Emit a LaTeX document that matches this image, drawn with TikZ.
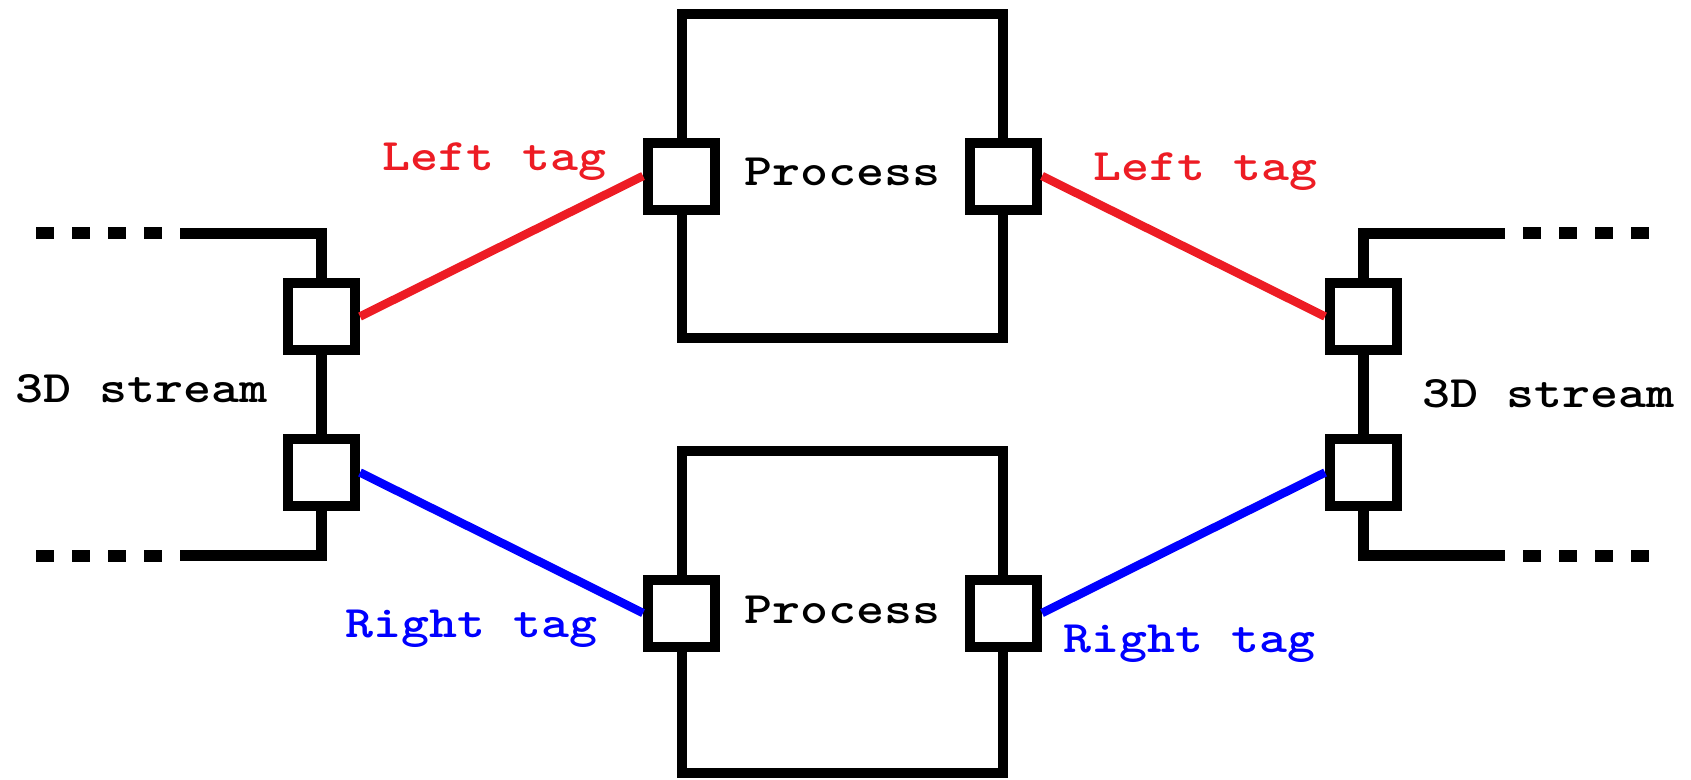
\documentclass[tikz,border=0pt]{standalone}
\usepackage{graphicx}
\definecolor{tagred}{RGB}{237,28,36}
\definecolor{tagblue}{RGB}{0,0,255}
\newcommand{\wtxt}[1]{\scalebox{1.185}[1]{#1}}
\tikzset{
 port/.style={draw=black, line width=10pt, fill=white, minimum size=67pt, inner sep=0pt},
 procbox/.style={draw=black, line width=10pt, minimum width=321pt, minimum height=324pt, inner sep=0pt},
 stream/.style={draw=black, line width=11pt, line join=miter},
 dots/.style={draw=black, line width=12pt, dash pattern=on 18pt off 18pt},
 redtag/.style={draw=tagred, line width=8.5pt},
 bluetag/.style={draw=tagblue, line width=8.5pt},
 lbl/.style={font=\fontsize{45}{45}\selectfont\ttfamily\bfseries, inner sep=0pt},
}
\begin{document}
\begin{tikzpicture}[x=1pt,y=-1pt]
\useasboundingbox (0,0) rectangle (1691,779);
% process boxes
\node[procbox] (proc1) at (842.5,176) {};
\node[procbox, minimum height=322pt] (proc2) at (842.5,612) {};
% stream coordinates
\coordinate (ltd1) at (36,233);
\coordinate (ltd2) at (162,233);
\coordinate (lta) at (180,233);
\coordinate (ltc) at (321.5,233);
\coordinate (lbd1) at (36,555.5);
\coordinate (lbd2) at (162,555.5);
\coordinate (lba) at (180,555.5);
\coordinate (lbc) at (321.5,555.5);
\coordinate (rtd1) at (1523,233);
\coordinate (rtd2) at (1649,233);
\coordinate (rta) at (1505,233);
\coordinate (rtc) at (1363.5,233);
\coordinate (rbd1) at (1523,555.5);
\coordinate (rbd2) at (1649,555.5);
\coordinate (rba) at (1505,555.5);
\coordinate (rbc) at (1363.5,555.5);
% stream squares (positions)
\coordinate (lsq1c) at (321.5,316.5);
\coordinate (lsq2c) at (321.5,472.5);
\coordinate (rsq1c) at (1363.5,316.5);
\coordinate (rsq2c) at (1363.5,472.5);
% stream lines
\draw[stream] (lta) -- (ltc) -- (lsq1c);
\draw[stream] (lsq1c) -- (lsq2c);
\draw[stream] (lsq2c) -- (lbc) -- (lba);
\draw[stream] (rta) -- (rtc) -- (rsq1c);
\draw[stream] (rsq1c) -- (rsq2c);
\draw[stream] (rsq2c) -- (rbc) -- (rba);
\draw[dots] (ltd1) -- (ltd2);
\draw[dots] (lbd1) -- (lbd2);
\draw[dots] (rtd1) -- (rtd2);
\draw[dots] (rbd1) -- (rbd2);
% ports
\node[port] (lsq1) at (lsq1c) {};
\node[port] (lsq2) at (lsq2c) {};
\node[port] (rsq1) at (rsq1c) {};
\node[port] (rsq2) at (rsq2c) {};
\node[port] (p1L) at (681.5,176) {};
\node[port] (p1R) at (1003.5,176) {};
\node[port] (p2L) at (681.5,613) {};
\node[port] (p2R) at (1003.5,613) {};
% tag connectors
\draw[redtag] (lsq1.east) -- (p1L.west);
\draw[redtag] (p1R.east) -- (rsq1.west);
\draw[bluetag] (lsq2.east) -- (p2L.west);
\draw[bluetag] (p2R.east) -- (rsq2.west);
% labels
\node[lbl, anchor=base] (t1) at (842.5,185) {\wtxt{Process}};
\node[lbl, anchor=base] (t2) at (842.5,623) {\wtxt{Process}};
\node[lbl, anchor=base west] (s1) at (15,402) {\wtxt{3D stream}};
\node[lbl, anchor=base west] (s2) at (1422,407) {\wtxt{3D stream}};
\node[lbl, text=tagred, anchor=base west] (lt1) at (382,170) {\wtxt{Left tag}};
\node[lbl, text=tagred, anchor=base west] (lt2) at (1093,180) {\wtxt{Left tag}};
\node[lbl, text=tagblue, anchor=base west] (rt1) at (345,637) {\wtxt{Right tag}};
\node[lbl, text=tagblue, anchor=base west] (rt2) at (1063,652) {\wtxt{Right tag}};
\end{tikzpicture}
\end{document}
